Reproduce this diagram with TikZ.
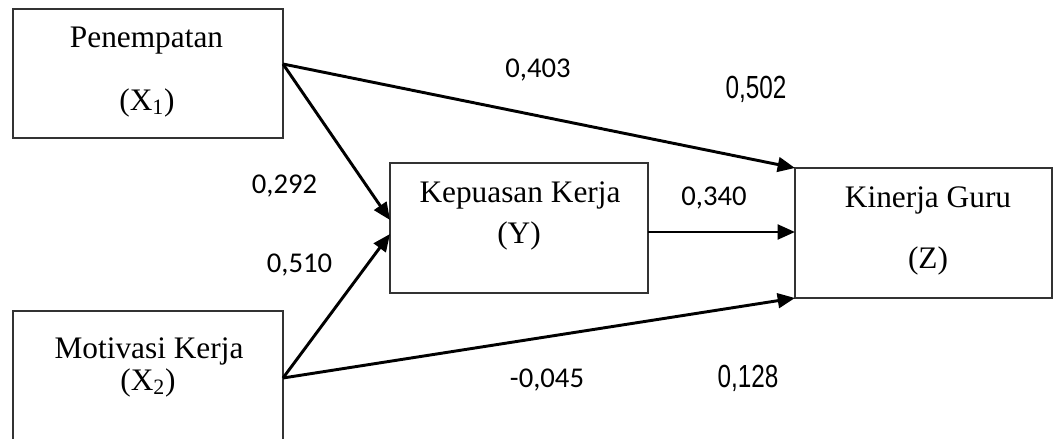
\documentclass[tikz,border=0pt]{standalone}
\usepackage{fontspec}
\setmainfont{Liberation Serif}
\newfontfamily\calibri{Carlito}
\newfontfamily\arialf{Liberation Sans}
\usetikzlibrary{arrows.meta}
\begin{document}
\begin{tikzpicture}[x=0.75pt,y=-0.75pt,
  box/.style={draw=black!80,line width=1pt,rectangle,inner sep=0pt,outer sep=0pt},
  txt/.style={anchor=base,inner sep=0pt,font=\fontsize{23.5}{28}\selectfont},
  coef/.style={anchor=base,inner sep=0pt,font=\calibri\fontsize{21.5}{25}\selectfont},
  coefb/.style={anchor=base,inner sep=0pt,xscale=0.76,font=\arialf\fontsize{24}{28}\selectfont},
  path/.style={draw=black,line width=2.2pt,-{Triangle[length=13pt,width=11pt]}}]
\useasboundingbox (0,0) rectangle (1053,439);
\clip (0,0) rectangle (1053,439);

% boxes
\node[box,minimum width=202.5pt,minimum height=96.75pt] (X1) at (148,73.5) {};
\node[box,minimum width=202.5pt,minimum height=119.25pt] (X2) at (148,390.5) {};
\node[box,minimum width=193.5pt,minimum height=97.5pt] (Y) at (519,228) {};
\node[box,minimum width=192.75pt,minimum height=97.5pt] (Z) at (923.5,233) {};

% box texts
\node[txt] (t1) at (146.5,47) {Penempatan};
\node[txt] (t1b) at (147,110) {(X\textsubscript{1})};
\node[txt] (t2) at (149,358) {Motivasi Kerja};
\node[txt] (t2b) at (148,390) {(X\textsubscript{2})};
\node[txt] (ty) at (520,202) {Kepuasan Kerja};
\node[txt] (tyb) at (519,243) {(Y)};
\node[txt] (tz) at (928,207) {Kinerja Guru};
\node[txt] (tzb) at (928,268) {(Z)};

% connector end points on the box borders
\coordinate (x1out) at (X1.east |- 0,64);
\coordinate (x2out) at (X2.east |- 0,378);
\coordinate (yin1) at (Y.west |- 0,220);
\coordinate (yin2) at (Y.west |- 0,234);
\coordinate (yout) at (Y.east |- 0,232);
\coordinate (zin) at (Z.west |- 0,232);

% paths
\draw[path] (x1out) -- (Z.north west);
\draw[path] (x1out) -- (yin1);
\draw[path] (x2out) -- (yin2);
\draw[path] (x2out) -- (Z.south west);
\draw[path] (yout) -- (zin);

% coefficients
\node[coef] (c1) at (538,77) {0,403};
\node[coefb] (c2) at (756,98) {0,502};
\node[coef] (c3) at (284.5,193) {0,292};
\node[coef] (c4) at (714,205) {0,340};
\node[coef] (c5) at (299.5,272) {0,510};
\node[coef] (c6) at (547,387) {-0,045};
\node[coefb] (c7) at (748,387) {0,128};
\end{tikzpicture}
\end{document}
